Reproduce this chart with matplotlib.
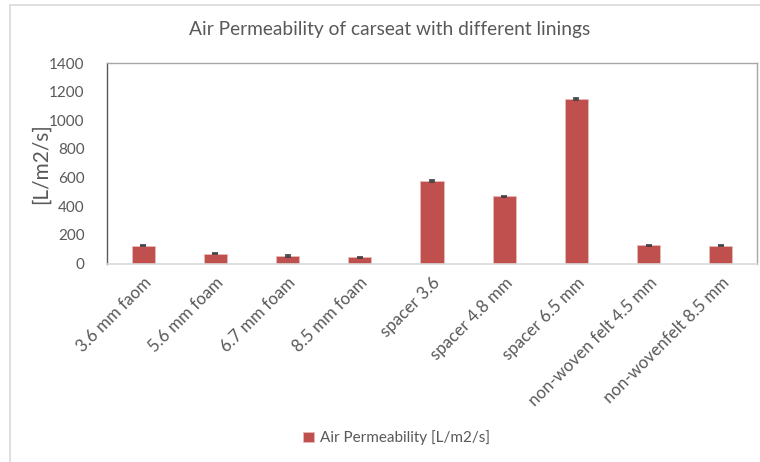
import numpy as np
import matplotlib.pyplot as plt
from matplotlib.patches import Rectangle

# data
categories = ['3.6 mm faom', '5.6 mm foam', '6.7 mm foam', '8.5 mm foam', 'spacer 3.6',
              'spacer 4.8 mm', 'spacer 6.5 mm', 'non-woven felt 4.5 mm', 'non-wovenfelt 8.5 mm']
values = [124, 69, 52, 43, 576, 469, 1149, 127, 123]
errors = [5, 4, 4, 4, 6, 5, 6, 4, 4]
series_name = 'Air Permeability [L/m2/s]'

plt.rcParams['font.family'] = ['Lato', 'DejaVu Sans']
txt = '#595959'
bar_col = '#C0504D'

fig = plt.figure(figsize=(7.6, 4.62), dpi=100)
# chart area border
fig.patches.append(Rectangle((10/760, -0.01), 1.0, 1 - 5/462 + 0.01, transform=fig.transFigure,
                             fill=False, edgecolor='#D9D9D9', lw=1.2))

ax = fig.add_axes([107/760, 1 - 263.5/462, 650/760, (263.5 - 63)/462])
x = np.arange(len(categories))
ax.bar(x, values, width=0.32, color=bar_col, edgecolor='#E6B9B8', linewidth=0.6,
       yerr=errors, error_kw=dict(ecolor='#404040', elinewidth=1.2, capsize=2.5, capthick=1.2),
       label=series_name, zorder=2)

ax.set_xlim(-0.5, len(categories) - 0.5)
ax.set_ylim(0, 1400)
ax.set_yticks(np.arange(0, 1401, 200))
ax.tick_params(axis='y', length=0, labelsize=11, labelcolor=txt, pad=16)
ax.set_xticks(x)
ax.set_xticklabels(categories, rotation=45, ha='right', rotation_mode='anchor', fontsize=12.2, color=txt)
ax.tick_params(axis='x', length=0, pad=8)

for s in ['top', 'right']:
    ax.spines[s].set_color('#A6A6A6')
    ax.spines[s].set_linewidth(1.0)
ax.spines['left'].set_color('#595959')
ax.spines['left'].set_linewidth(1.0)
ax.spines['bottom'].set_color('#D9D9D9')
ax.spines['bottom'].set_linewidth(1.2)

ax.set_ylabel('[L/m2/s]', fontsize=15, color=txt, labelpad=-1)
fig.text(0.513, 1 - 30/462, 'Air Permeability of carseat with different linings',
         ha='center', va='center', fontsize=13.8, color=txt)

fig.legend(loc='center', bbox_to_anchor=(0.522, 1 - 438/462), frameon=False, fontsize=11,
           labelcolor=txt, handlelength=0.7, handleheight=0.7, handletextpad=0.4)

fig.savefig('out.png', dpi=100)
